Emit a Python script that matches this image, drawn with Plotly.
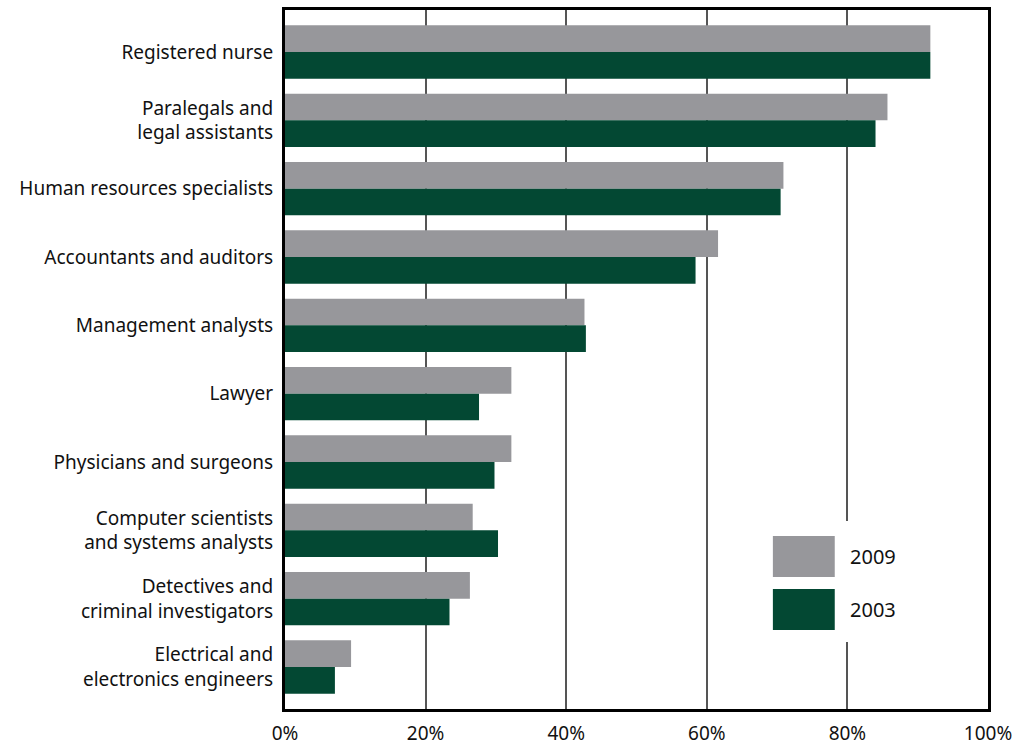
import plotly.graph_objects as go

# Share of workers in each occupation, by survey year (percent)
occupations = [
    "Registered nurse",
    "Paralegals and<br>legal assistants",
    "Human resources specialists",
    "Accountants and auditors",
    "Management analysts",
    "Lawyer",
    "Physicians and surgeons",
    "Computer scientists<br>and systems analysts",
    "Detectives and<br>criminal investigators",
    "Electrical and<br>electronics engineers",
]
share_2009 = [91.8, 85.7, 70.9, 61.6, 42.6, 32.2, 32.2, 26.7, 26.3, 9.4]
share_2003 = [91.8, 84.0, 70.5, 58.4, 42.8, 27.6, 29.8, 30.3, 23.4, 7.1]
years = ["2009", "2003"]
tick_values = [0, 20, 40, 60, 80, 100]
tick_labels = ["0%", "20%", "40%", "60%", "80%", "100%"]

GRAY = "#97979b"
GREEN = "#034833"
FONT = "Noto Sans"

fig = go.Figure()
fig.add_trace(go.Bar(y=occupations, x=share_2009, orientation="h",
                     name=years[0], marker=dict(color=GRAY, line=dict(width=0))))
fig.add_trace(go.Bar(y=occupations, x=share_2003, orientation="h",
                     name=years[1], marker=dict(color=GREEN, line=dict(width=0))))

# Custom legend box: white panel over the gridline, two large swatches
fig.add_shape(type="rect", xref="x", yref="paper", x0=67.0, x1=90.0,
              y0=0.096, y1=0.269, fillcolor="white", line=dict(width=0), layer="above")
swatches = [(0.1888, 0.2475, GRAY), (0.1130, 0.1717, GREEN)]
for (y0, y1, col), label in zip(swatches, years):
    fig.add_shape(type="rect", xref="x", yref="paper", x0=69.4, x1=78.2,
                  y0=y0, y1=y1, fillcolor=col, line=dict(width=0), layer="above")
    fig.add_annotation(x=80.1, y=(y0 + y1) / 2, xref="x", yref="paper",
                       text=label, showarrow=False, xanchor="left", yanchor="middle",
                       font=dict(family=FONT, size=20, color="#111111"))

fig.update_layout(
    width=1026, height=746,
    margin=dict(l=285, r=38, t=10, b=37, autoexpand=False),
    paper_bgcolor="white", plot_bgcolor="white",
    barmode="group", bargap=0.22, bargroupgap=0,
    showlegend=False,
    font=dict(family=FONT, size=19, color="#111111"),
)
fig.update_xaxes(
    range=[0, 100], tickvals=tick_values, ticktext=tick_labels,
    showgrid=True, gridcolor="#555555", gridwidth=1.5,
    showline=True, linecolor="black", linewidth=3, mirror=True,
    ticks="", zeroline=False, ticklabelstandoff=5, automargin=False,
    tickfont=dict(family=FONT, size=19, color="#111111"),
)
fig.update_yaxes(
    range=[9.615, -0.615], showgrid=False,
    showline=True, linecolor="black", linewidth=3, mirror=True,
    ticks="", ticklabelstandoff=5, automargin=False,
    tickfont=dict(family=FONT, size=19, color="#111111"),
)

fig.write_html("out.html")
